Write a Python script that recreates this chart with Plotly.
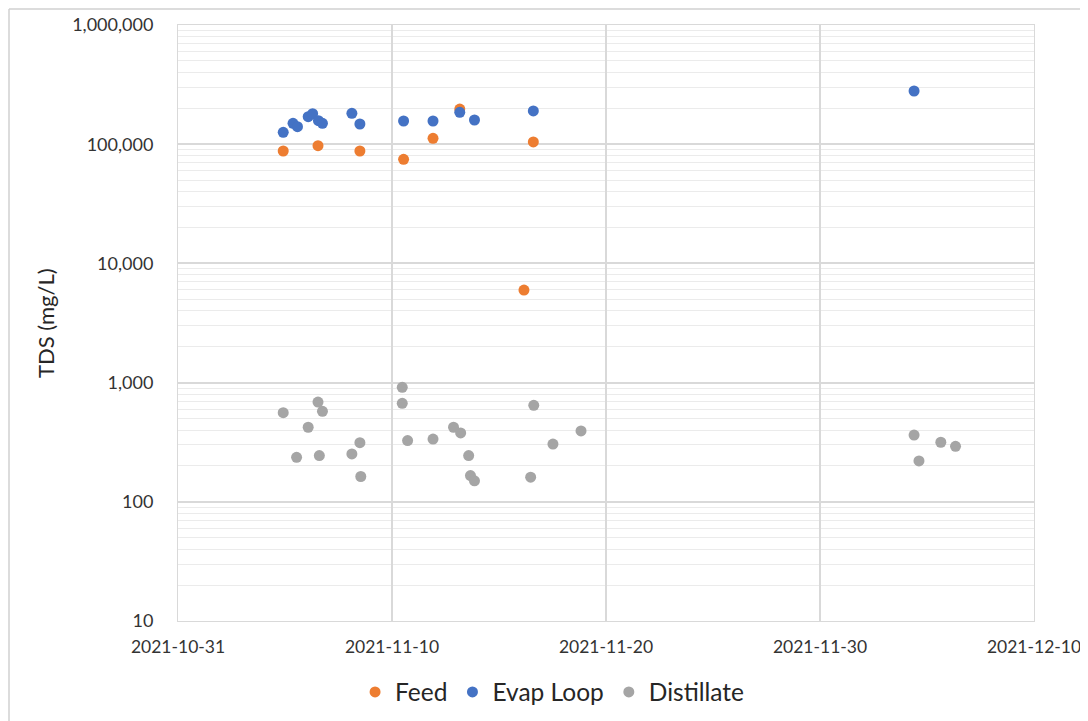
import plotly.graph_objects as go

# ---- data ----
feed_dates = ["2021-11-04 22:00", "2021-11-06 13:00", "2021-11-08 12:00", "2021-11-10 13:00",
              "2021-11-11 22:00", "2021-11-13 04:00", "2021-11-16 04:00", "2021-11-16 14:30"]
feed_tds = [87700, 97200, 87700, 74700, 112100, 197000, 5980, 104400]

evap_dates = ["2021-11-04 22:00", "2021-11-05 09:00", "2021-11-05 14:00", "2021-11-06 02:00",
              "2021-11-06 07:00", "2021-11-06 13:30", "2021-11-06 18:00", "2021-11-08 03:00",
              "2021-11-08 12:00", "2021-11-10 13:00", "2021-11-11 22:00", "2021-11-13 04:00",
              "2021-11-13 20:30", "2021-11-16 14:30", "2021-12-04 09:30"]
evap_tds = [125900, 149700, 140200, 170000, 180200, 157500, 149700, 181700,
            147700, 156500, 156500, 185000, 159600, 190000, 279500]

dist_dates = ["2021-11-04 22:00", "2021-11-05 13:00", "2021-11-06 02:00", "2021-11-06 13:00",
              "2021-11-06 14:30", "2021-11-06 18:00", "2021-11-08 03:00", "2021-11-08 12:00",
              "2021-11-08 13:00", "2021-11-10 11:30", "2021-11-10 11:30", "2021-11-10 17:30",
              "2021-11-11 22:00", "2021-11-12 21:00", "2021-11-13 05:00", "2021-11-13 14:00",
              "2021-11-13 16:00", "2021-11-13 20:30", "2021-11-16 11:30", "2021-11-16 15:00",
              "2021-11-17 12:30", "2021-11-18 20:00", "2021-12-04 09:30", "2021-12-04 15:00",
              "2021-12-05 15:30", "2021-12-06 08:00"]
dist_tds = [559, 236, 422, 687, 244, 574, 252, 313, 163, 912, 670, 326,
            336, 422, 378, 244, 166, 150, 161, 645, 305, 393, 363, 220, 316, 292]

x_ticks = ["2021-10-31", "2021-11-10", "2021-11-20", "2021-11-30", "2021-12-10"]
y_ticks = [10, 100, 1000, 10000, 100000, 1000000]
y_tick_labels = ["10", "100", "1,000", "10,000", "100,000", "1,000,000"]

minor_vals = [k * 10 ** n for n in range(1, 6) for k in range(2, 10)]

FONT = "Lato, Carlito, Calibri, sans-serif"

# figure sits inside the page's 8px body margin
W, H = 1080, 713
L, T, PW, PH = 170, 17, 856, 596

fig = go.Figure()
for name, xs, ys, col in [("Feed", feed_dates, feed_tds, "#ED7D31"),
                          ("Evap Loop", evap_dates, evap_tds, "#4472C4"),
                          ("Distillate", dist_dates, dist_tds, "#A5A5A5")]:
    fig.add_trace(go.Scatter(x=xs, y=ys, mode="markers", name=name,
                             marker=dict(color=col, size=11, line=dict(width=0))))

fig.update_layout(
    width=W, height=H,
    margin=dict(l=L, r=W - L - PW, t=T, b=H - T - PH, autoexpand=False),
    paper_bgcolor="white", plot_bgcolor="white",
    font=dict(family=FONT, color="#404040", size=14),
    showlegend=True,
    legend=dict(orientation="h", x=0.437, xanchor="center",
                yref="container", y=1 - 684 / H, yanchor="middle",
                font=dict(size=24.5, color="#262626"), traceorder="normal"),
)
fig.update_xaxes(type="date", range=["2021-10-31", "2021-12-10"],
                 tickvals=x_ticks, ticktext=x_ticks, automargin=False,
                 showgrid=True, gridcolor="#D9D9D9", gridwidth=1.5,
                 showline=True, linecolor="#D9D9D9", linewidth=1, mirror=True,
                 ticks="", ticklabelstandoff=10,
                 tickfont=dict(size=17.5, color="#333333"), zeroline=False)
fig.update_yaxes(type="log", range=[1, 6], automargin=False,
                 tickvals=y_ticks, ticktext=y_tick_labels,
                 showgrid=True, gridcolor="#D9D9D9", gridwidth=1.5,
                 minor=dict(tickvals=minor_vals, showgrid=True, gridcolor="#EBEBEB", gridwidth=1, ticks=""),
                 showline=True, linecolor="#D9D9D9", linewidth=1, mirror=True,
                 ticks="", ticklabelstandoff=20,
                 tickfont=dict(size=18, color="#333333"), zeroline=False)

fig.add_annotation(text="TDS (mg/L)", textangle=-90, xref="paper", yref="paper",
                   x=(37 - L) / PW, y=0.5, xanchor="center", yanchor="middle",
                   showarrow=False, font=dict(size=22, color="#262626"))

# outer frame (left and top edges visible in reference)
fx = (1 - L) / PW
fy = 1 + (T - 1) / PH
fig.add_shape(type="line", xref="paper", yref="paper", x0=fx, x1=1.2, y0=fy, y1=fy,
              line=dict(color="#D0D0D0", width=1.5))
fig.add_shape(type="line", xref="paper", yref="paper", x0=fx, x1=fx, y0=fy, y1=-0.3,
              line=dict(color="#D0D0D0", width=1.5))

fig.write_html("out.html")
